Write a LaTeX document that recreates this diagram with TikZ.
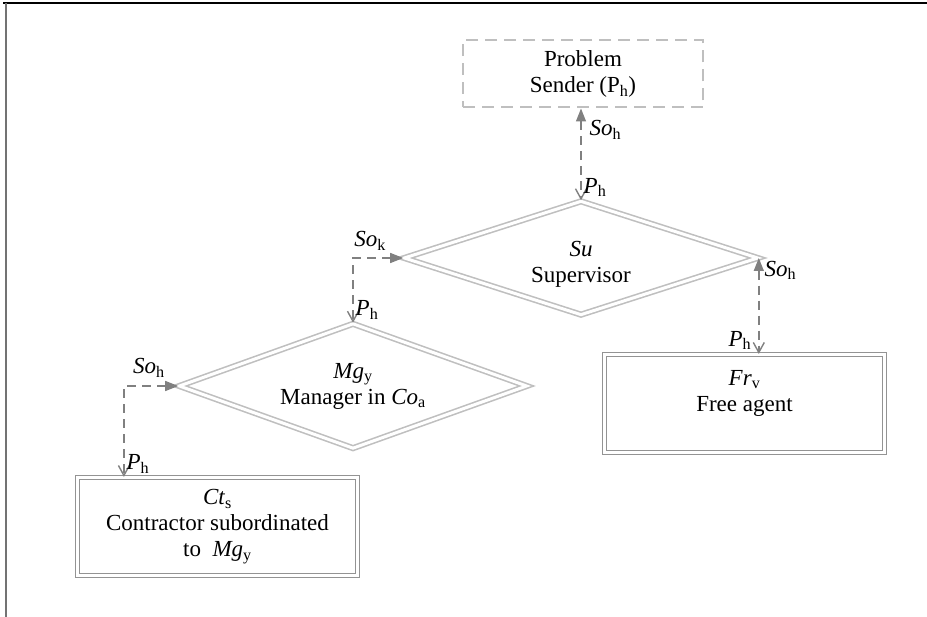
\documentclass[tikz,border=0pt]{standalone}
\usepackage{fontspec}
\setmainfont{Liberation Serif}
\usepackage{tikz}
\usetikzlibrary{arrows.meta,shapes.geometric}

\begin{document}
\begin{tikzpicture}[x=1pt, y=-1pt, font=\fontsize{23}{26}\selectfont,
    agentbox/.style={rectangle, draw=gray!85, double=white, double distance=2.2pt, line width=1.2pt,
        minimum width=280pt, minimum height=98pt, inner sep=0pt, align=center},
    rolebox/.style={diamond, draw=gray!50, double=white, double distance=3pt, line width=1.6pt,
        inner sep=0pt, aspect=2.8, align=center},
    link/.style={draw=gray, line width=1.4pt, dash pattern=on 9pt off 6pt,
        arrows={Triangle[length=13pt,width=10pt]-Straight Barb[length=10pt,width=11pt]}}]
\useasboundingbox (0,0) rectangle (927,617);
% frame
\draw[line width=1.5pt] (3,3) -- (927,3);
\draw[black!55, line width=1.5pt] (6,3) -- (6,617);
\begin{scope}
    \node (sender) at (583,74) [rectangle, draw=gray!50, line width=2pt, dash pattern=on 12pt off 7pt,
        minimum width=240pt, minimum height=67pt, align=center] {Problem\\Sender (P\textsubscript{h})};
    \node (su) at (581,258) [rolebox, minimum width=354pt, minimum height=114pt] {\rule{0pt}{28pt}\textit{Su}\\Supervisor};
    \node (mg) at (353,386) [rolebox, minimum width=348pt, minimum height=125pt] {\textit{Mg}\textsubscript{y}\\Manager in \textit{Co}\textsubscript{a}};
    \node (ct) at (217.5,526.5) [agentbox] {\textit{Ct}\textsubscript{s}\\Contractor subordinated\\to~ \textit{Mg}\textsubscript{y}};
    \node (fr) at (744.5,403.5) [agentbox] {\textit{Fr}\textsubscript{v}\\Free agent\\\mbox{}};
\end{scope}
\begin{scope}[every node/.style={inner sep=2pt}]
    \draw [link] (su.north |- sender.south) -- (su.north)
        node [pos=0.23, right=6pt] {\textit{So}\textsubscript{h}}
        node [pos=0.86, right] {\textit{P}\textsubscript{h}};
    \draw [link] (su.west) -| (mg.north)
        node [pos=0.33, above=5pt] {\textit{So}\textsubscript{k}}
        node [pos=0.9, right] {\textit{P}\textsubscript{h}};
    \draw [link] (su.east) -- (su.east |- fr.north)
        node [pos=0.13, right=3pt] {\textit{So}\textsubscript{h}}
        node [pos=0.86, left=5pt] {\textit{P}\textsubscript{h}};
    \draw [link] (mg.west) -| ([xshift=47pt]ct.north west)
        node [pos=0.27, above=6pt] {\textit{So}\textsubscript{h}}
        node [pos=0.93, right] {\textit{P}\textsubscript{h}};
\end{scope}
\end{tikzpicture}
\end{document}
